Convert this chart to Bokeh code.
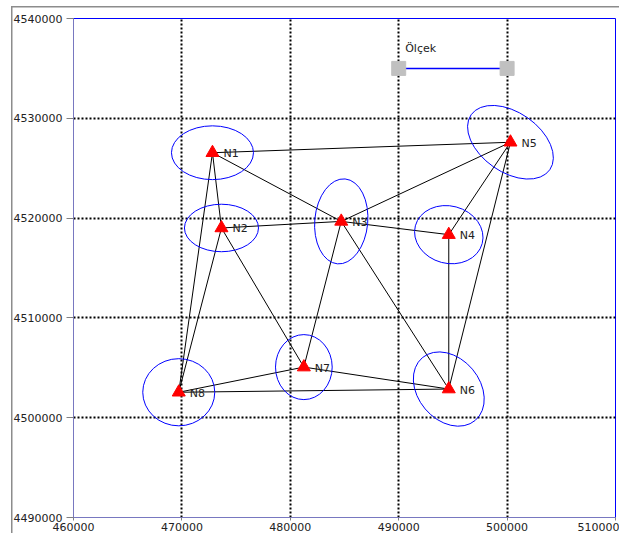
from bokeh.plotting import figure
from bokeh.models import Range1d, FixedTicker, ColumnDataSource, BasicTickFormatter
from bokeh.core.properties import value
from bokeh.embed import file_html
from bokeh.resources import INLINE

# ---- data ----
names = ["N1", "N2", "N3", "N4", "N5", "N6", "N7", "N8"]
east = [472820, 473650, 484700, 494620, 500310, 494620, 481250, 469710]
north = [4526550, 4519010, 4519670, 4518340, 4527600, 4502870, 4505070, 4502550]

# error ellipses (axes in map units, rotation in radians)
ell_w = [7565, 6830, 4890, 6380, 8856, 7565, 5230, 6642]
ell_h = [5389, 4760, 8550, 5750, 5988, 6188, 6520, 6727]
ell_angle = [0.0, 0.0, -0.09, -0.26, -0.61, -0.87, 0.0, 0.0]

edges = [("N1", "N5"), ("N1", "N3"), ("N1", "N8"), ("N1", "N2"),
         ("N2", "N3"), ("N2", "N8"), ("N2", "N7"),
         ("N3", "N5"), ("N3", "N4"), ("N3", "N7"), ("N3", "N6"),
         ("N4", "N5"), ("N4", "N6"), ("N5", "N6"),
         ("N6", "N7"), ("N6", "N8"), ("N7", "N8")]

x_ticks = [460000, 470000, 480000, 490000, 500000, 510000]
y_ticks = [4490000, 4500000, 4510000, 4520000, 4530000, 4540000]

scale_x = [490000, 500000]
scale_y = [4535000, 4535000]
scale_label = "Ölçek"
scale_label_pos = (490600, 4537000)

# ---- figure ----
p = figure(width=619, height=533, output_backend="svg", toolbar_location=None,
           x_range=Range1d(x_ticks[0], x_ticks[-1]),
           y_range=Range1d(y_ticks[0], y_ticks[-1]),
           min_border_left=73, min_border_right=4,
           min_border_top=18, min_border_bottom=14)
p.background_fill_color = "white"
p.border_fill_color = "white"
p.border_fill_alpha = 0.0
p.styles = {
    "background": "linear-gradient(#8c8c8c,#8c8c8c) 11px 6px / 1.5px 100% no-repeat, "
                  "linear-gradient(#8c8c8c,#8c8c8c) 11px 6px / 100% 1.5px no-repeat, white"
}
p.outline_line_color = "#0000ff"
p.outline_line_width = 1

for ax, ticks in ((p.xaxis[0], x_ticks), (p.yaxis[0], y_ticks)):
    ax.ticker = FixedTicker(ticks=ticks)
    ax.formatter = BasicTickFormatter(use_scientific=False)
    ax.axis_line_color = "#7878c0"
    ax.major_tick_line_color = "#808080"
    ax.minor_tick_line_color = None
    ax.major_tick_in = 0
    ax.major_label_text_font = "DejaVu Sans"
    ax.major_label_text_font_size = "11px"
    ax.major_label_text_color = "#222222"
p.yaxis.major_tick_out = 7
p.yaxis.major_label_standoff = 4
p.xaxis.major_tick_out = 3
p.xaxis.major_label_standoff = 2

p.xgrid.ticker = FixedTicker(ticks=x_ticks[1:])
p.ygrid.ticker = FixedTicker(ticks=y_ticks[1:])
for g in (p.xgrid[0], p.ygrid[0]):
    g.grid_line_color = "black"
    g.grid_line_width = 2
    g.grid_line_dash = "2 2"
    g.level = "underlay"

# network edges
idx = {n: i for i, n in enumerate(names)}
xs = [[east[idx[a]], east[idx[b]]] for a, b in edges]
ys = [[north[idx[a]], north[idx[b]]] for a, b in edges]
p.multi_line(xs, ys, line_color="black", line_width=1)

# error ellipses
src = ColumnDataSource(dict(x=east, y=north, w=ell_w, h=ell_h, a=ell_angle, n=names))
p.ellipse(x="x", y="y", width="w", height="h", angle="a", source=src,
          fill_color=None, line_color="#0000ff", line_width=1)

# points
p.scatter(x="x", y="y", source=src, marker="triangle", size=13,
          fill_color="#ff0000", line_color="#ff0000")
p.text(x="x", y="y", text="n", source=src, x_offset=11, y_offset=1,
       text_font=value("DejaVu Sans"), text_font_size="11px",
       text_baseline="middle", text_color="#222222")

# scale bar
p.line(scale_x, scale_y, line_color="#0000ff", line_width=1.5)
p.scatter(scale_x, scale_y, marker="square", size=14,
          fill_color="#c0c0c0", line_color="#c0c0c0")
p.text(x=[scale_label_pos[0]], y=[scale_label_pos[1]], text=[scale_label],
       text_font=value("DejaVu Sans"), text_font_size="11px",
       text_baseline="middle", text_color="#222222")

open("out.html", "w").write(file_html(p, INLINE))
